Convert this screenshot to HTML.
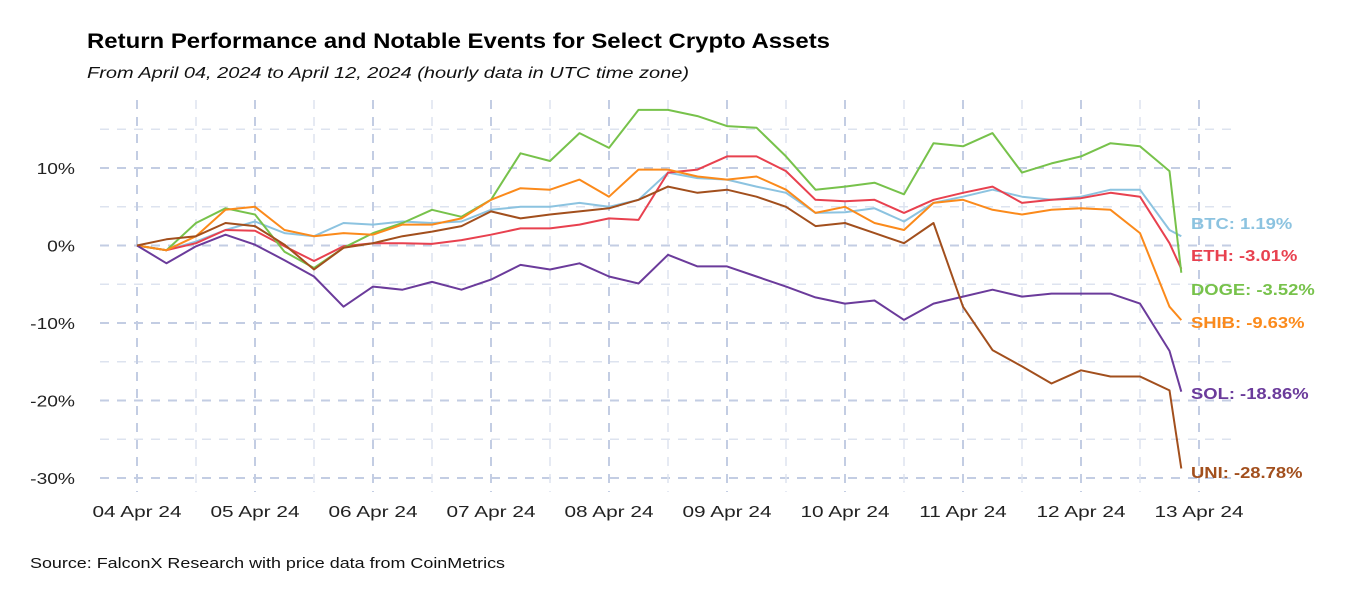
<!DOCTYPE html>
<html><head><meta charset="utf-8"><style>
body{margin:0;background:#fff;width:1350px;height:600px;overflow:hidden;font-family:"Liberation Sans",sans-serif;}
</style></head><body>
<svg id="chart" width="1350" height="600" xmlns="http://www.w3.org/2000/svg" font-family="Liberation Sans, sans-serif">
<text x="87" y="48" font-size="21" font-weight="bold" fill="#000" textLength="743" lengthAdjust="spacingAndGlyphs">Return Performance and Notable Events for Select Crypto Assets</text>
<text x="87" y="78" font-size="16" font-style="italic" fill="#111" textLength="602" lengthAdjust="spacingAndGlyphs">From April 04, 2024 to April 12, 2024 (hourly data in UTC time zone)</text>
<text x="30" y="568" font-size="15" fill="#111" textLength="475" lengthAdjust="spacingAndGlyphs">Source: FalconX Research with price data from CoinMetrics</text>
<g id="grid"></g>
<g id="axes"></g>
<g id="series"></g>
<g id="labels"></g>
</svg>
<script>
const assets = ["BTC","ETH","DOGE","SHIB","SOL","UNI"];
const colors = ["#8cc3e0","#e8414f","#77c24b","#fb8a1b","#6b3b9b","#a24f1d"];
const endLabels = ["BTC: 1.19%","ETH: -3.01%","DOGE: -3.52%","SHIB: -9.63%","SOL: -18.86%","UNI: -28.78%"];
const dayLabels = ["04 Apr 24","05 Apr 24","06 Apr 24","07 Apr 24","08 Apr 24","09 Apr 24","10 Apr 24","11 Apr 24","12 Apr 24","13 Apr 24"];
const yTicks = [10,0,-10,-20,-30];
const btc  = [0,-0.6,0.5,2.0,3.1,1.6,1.2,2.9,2.7,3.1,2.9,3.1,4.6,5.0,5.0,5.5,5.0,5.9,9.4,8.7,8.5,7.6,6.8,4.2,4.3,4.8,3.1,5.5,6.3,7.2,6.3,5.9,6.3,7.2,7.2,2.0,1.19];
const eth  = [0,-0.6,0.3,2.0,1.9,-0.1,-2.0,-0.1,0.3,0.3,0.2,0.7,1.4,2.2,2.2,2.7,3.5,3.3,9.4,9.8,11.5,11.5,9.6,5.9,5.7,5.9,4.2,5.9,6.8,7.6,5.5,5.9,6.1,6.8,6.3,0.3,-3.01];
const doge = [0,-0.6,2.9,4.8,4.0,-0.8,-2.9,-0.3,1.6,2.9,4.6,3.7,5.9,11.9,10.9,14.5,12.6,17.5,17.5,16.7,15.4,15.2,11.5,7.2,7.6,8.1,6.6,13.2,12.8,14.5,9.4,10.6,11.5,13.2,12.8,9.6,-3.52];
const shib = [0,-0.6,1.2,4.6,5.0,2.0,1.2,1.6,1.4,2.7,2.7,3.5,5.9,7.4,7.2,8.5,6.3,9.8,9.8,8.9,8.5,8.9,7.2,4.2,5.0,2.9,2.0,5.5,5.9,4.6,4.0,4.6,4.8,4.6,1.6,-7.9,-9.63];
const sol  = [0,-2.3,-0.1,1.4,0.1,-1.9,-4.0,-7.9,-5.3,-5.7,-4.7,-5.7,-4.4,-2.5,-3.1,-2.3,-4.0,-4.9,-1.2,-2.7,-2.7,-4.0,-5.3,-6.7,-7.5,-7.1,-9.6,-7.5,-6.6,-5.7,-6.6,-6.2,-6.2,-6.2,-7.5,-13.6,-18.86];
const uni  = [0,0.8,1.2,2.9,2.5,0.1,-3.1,-0.3,0.3,1.2,1.8,2.5,4.4,3.5,4.0,4.4,4.8,5.9,7.6,6.8,7.2,6.3,5.0,2.5,2.9,1.6,0.3,2.9,-7.9,-13.5,-15.6,-17.8,-16.1,-16.9,-16.9,-18.7,-28.78];
const seriesData = [btc,eth,doge,shib,sol,uni];
const NS="http://www.w3.org/2000/svg";
const x0=137, pxDay=118, y0=245.5, pxPct=7.75;
const xs = d => x0 + d*pxDay;
const ys = v => y0 - v*pxPct;
const tOf = (i,n) => i < n-1 ? i*0.25 : 8.85;
function mk(tag, attrs, parent){const e=document.createElementNS(NS,tag);for(const k in attrs)e.setAttribute(k,attrs[k]);parent.appendChild(e);return e;}
function stretch(t,f){const w=t.getComputedTextLength();t.setAttribute('textLength',(w*f).toFixed(1));t.setAttribute('lengthAdjust','spacingAndGlyphs');}
const grid=document.getElementById('grid'), axes=document.getElementById('axes'), ser=document.getElementById('series'), lab=document.getElementById('labels');
for(let v=15; v>=-32; v-=5){
  const major = v%10===0;
  const l=mk('line',{x1:100,x2:1235,y1:ys(v),y2:ys(v),stroke:major?'#c3cde3':'#dde3ef','stroke-width':major?2:1.5,'stroke-dasharray':'9,8'},grid);
  
  
}
for(let d=0; d<=9.3; d+=0.5){
  const major = Number.isInteger(d);
  const l=mk('line',{x1:xs(d),x2:xs(d),y1:100,y2:492,stroke:major?'#c3cde3':'#dde3ef','stroke-width':major?2:1.5,'stroke-dasharray':'9,8'},grid);
  
  
}
yTicks.forEach(v=>{
  const t=mk('text',{x:75,y:ys(v)+6,'text-anchor':'end','font-size':16,fill:'#222'},axes);
  t.textContent=v+'%';
  
  
  stretch(t,1.2);
});
dayLabels.forEach((s,i)=>{
  const t=mk('text',{x:xs(i),y:517,'text-anchor':'middle','font-size':16,fill:'#222'},axes);
  t.textContent=s;
  
  
  stretch(t,1.3);
});
seriesData.forEach((arr,k)=>{
  const pts=arr.map((v,i)=>xs(tOf(i,arr.length)).toFixed(1)+','+ys(v).toFixed(1)).join(' ');
  const p=mk('polyline',{points:pts,fill:'none',stroke:colors[k],'stroke-width':2,'stroke-linejoin':'round'},ser);
  
  
});
const labelY=[223,255,289,322,393,472];
endLabels.forEach((s,k)=>{
  const t=mk('text',{x:1191,y:labelY[k]+6,'font-size':16,'font-weight':'bold',fill:colors[k]},lab);
  t.textContent=s;
  
  
  stretch(t,1.15);
});
</script>
</body></html>
